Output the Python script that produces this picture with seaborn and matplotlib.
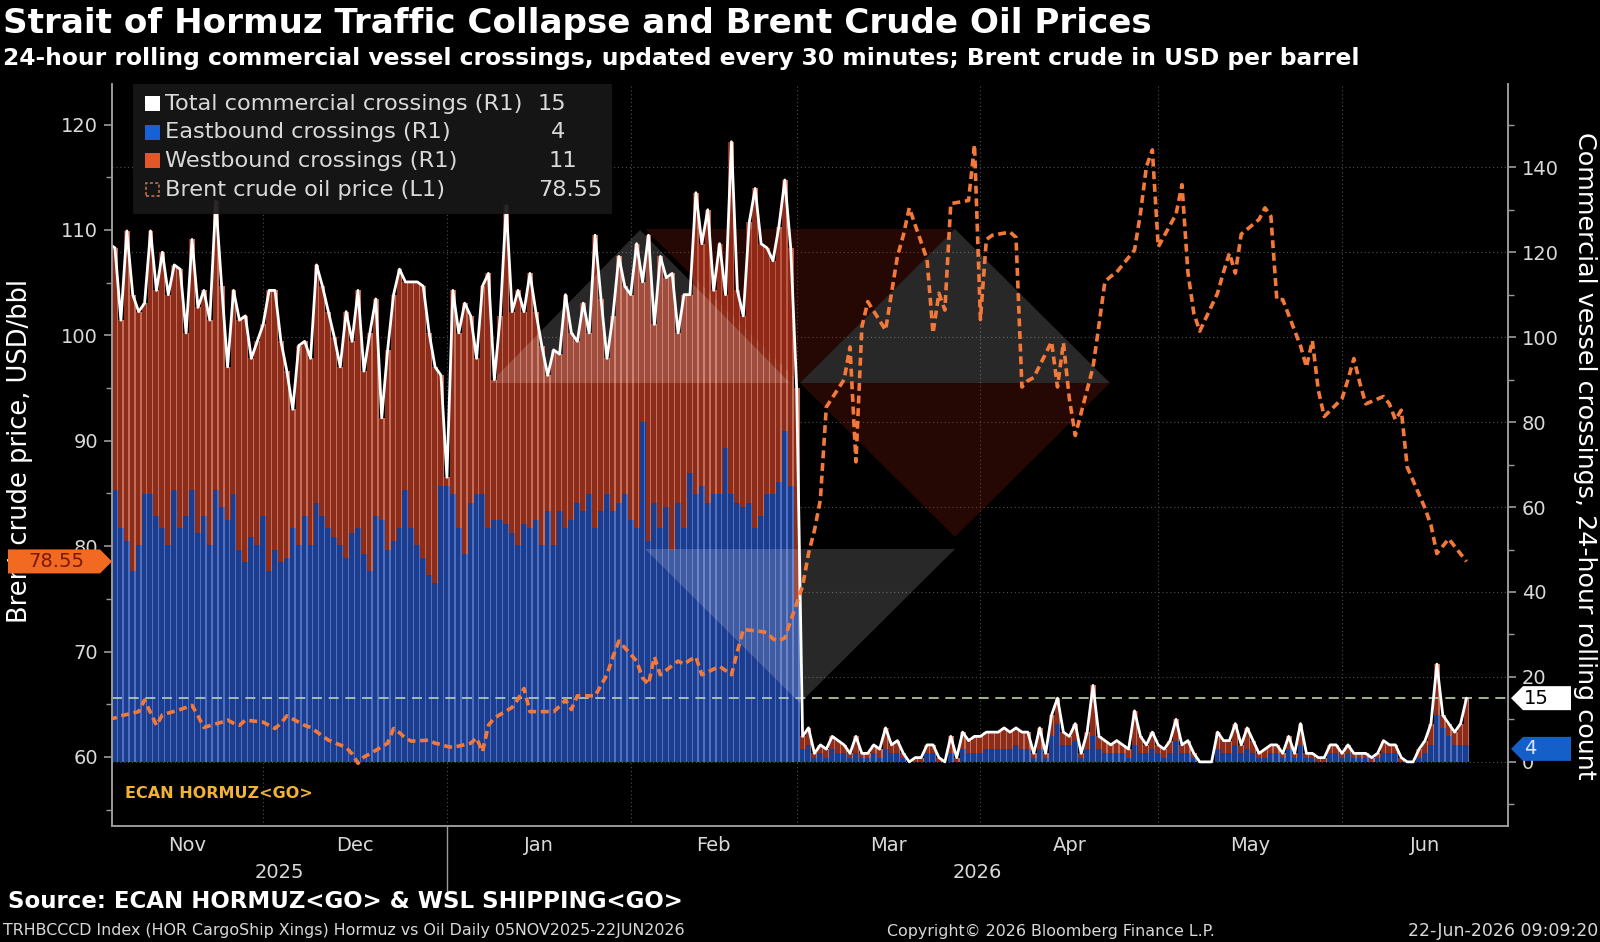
import numpy as np
import pandas as pd
import matplotlib
import matplotlib.pyplot as plt
import matplotlib.transforms as mtransforms
from matplotlib.patches import Polygon, Rectangle
import seaborn as sns

# ---- data: 24h rolling commercial crossings, daily 05-Nov-2025 .. 22-Jun-2026
total = [
    122, 121, 104, 125, 110, 106, 108, 125, 111, 120,
    110, 117, 116, 101, 123, 107, 111, 104, 132, 112,
    93, 111, 104, 105, 95, 99, 103, 111, 111, 99,
    92, 83, 98, 99, 95, 117, 112, 106, 100, 93,
    106, 99, 111, 92, 101, 109, 81, 97, 110, 116,
    113, 113, 113, 112, 101, 93, 91, 67, 111, 101,
    108, 105, 95, 112, 115, 90, 105, 131, 106, 111,
    106, 115, 106, 98, 91, 97, 96, 110, 101, 99,
    108, 101, 124, 109, 95, 105, 119, 112, 110, 122,
    113, 124, 103, 119, 114, 115, 101, 110, 110, 134,
    122, 130, 111, 122, 110, 146, 111, 105, 127, 135,
    122, 121, 118, 126, 137, 121, 88,
    # collapse
    6, 8, 2, 4, 3, 6, 5, 4, 2, 6,
    2, 2, 4, 3, 8, 4, 5, 2, 0, 1,
    1, 4, 4, 1, 0, 6, 1, 7, 5, 6,
    6, 7, 7, 7, 8, 7, 8, 7, 7, 2,
    8, 2, 11, 15, 7, 6, 9, 2, 7, 18,
    6, 5, 4, 5, 4, 3, 12, 6, 4, 7,
    4, 3, 5, 10, 4, 5, 2, 0, 0, 0,
    7, 5, 5, 9, 4, 8, 5, 2, 3, 4, 4, 2, 6, 2,
    9, 2, 2, 1, 1,
    4, 4, 2, 4, 2, 2, 2, 1, 2, 5, 4, 4, 1, 0, 0, 3, 5, 9, 23, 11, 9, 7, 9, 15,
]
eastbound = [
    61, 64, 55, 52, 45, 51, 63, 63, 58, 55,
    51, 64, 55, 58, 64, 54, 58, 51, 64, 60,
    57, 63, 50, 47, 53, 51, 58, 45, 50, 47,
    48, 55, 51, 58, 51, 61, 58, 55, 53, 51,
    48, 54, 55, 49, 45, 58, 57, 50, 52, 55,
    64, 55, 51, 48, 44, 42, 65, 65, 63, 55,
    49, 61, 63, 63, 55, 57, 57, 56, 54, 51,
    56, 55, 57, 51, 59, 51, 59, 55, 57, 61,
    59, 63, 55, 59, 63, 59, 61, 63, 57, 55,
    80, 52, 61, 55, 60, 50, 61, 55, 68, 63,
    65, 61, 63, 63, 74, 63, 61, 60, 61, 55,
    58, 63, 63, 66, 78, 65, 38,
    3, 4, 1, 2, 1, 3, 2, 2, 1, 2,
    1, 1, 2, 1, 3, 2, 2, 1, 0, 0,
    0, 2, 2, 0, 0, 2, 0, 3, 2, 2,
    2, 3, 3, 3, 3, 3, 4, 3, 3, 1,
    3, 1, 6, 9, 4, 4, 5, 1, 3, 6,
    3, 2, 2, 2, 2, 1, 4, 2, 2, 3,
    2, 1, 2, 5, 2, 2, 1, 0, 0, 0,
    3, 2, 2, 4, 2, 3, 2, 1, 1, 2, 2, 1, 3, 1,
    4, 1, 1, 0, 0,
    2, 2, 1, 2, 1, 1, 1, 0, 1, 2, 2, 2, 0, 0, 0, 1, 2, 4, 11, 8, 6, 4, 4, 4,
]
# Brent crude, business days 05-Nov-2025 .. 22-Jun-2026
brent = [
    63.6, 63.7, 63.9, 64.3, 65.4, 64.2, 63.0, 64.0, 64.5, 64.7, 64.9, 63.9, 62.8, 63.3, 63.5, 63.2, 63.0, 63.5,
    63.3, 63.0, 62.7, 63.2, 63.9, 63.0, 62.8, 62.4, 62.0, 61.6, 60.9, 60.3, 59.4, 60.0, 60.3, 61.3, 62.7, 62.3,
    61.8, 61.5, 61.6, 61.3, 61.2,
    61.0, 60.9, 61.3, 61.8, 60.5, 63.0, 63.7, 64.7, 65.5, 66.5, 64.3, 64.3, 64.3, 64.8, 65.4, 64.5, 65.8, 65.8,
    66.8, 67.8, 69.5, 71.0,
    69.1, 67.5, 66.9, 69.5, 67.8, 69.1, 68.8, 69.2, 69.5, 67.8, 68.6, 68.2, 67.8, 70.0, 72.1, 71.9, 71.8, 71.2,
    71.0, 71.3,
    76.2, 79.3, 81.5, 84.4, 93.2, 95.8, 98.9, 88.0, 100.8, 103.2, 100.5, 104.0, 107.5, 109.5, 112.1, 107.2,
    100.2, 104.0, 102.4, 112.5, 112.8, 118.1,
    101.5, 109.1, 109.5, 109.8, 109.3, 95.1, 95.7, 96.0, 99.4, 95.1, 99.3, 94.0, 90.5, 97.0, 101.0, 105.1,
    105.6, 106.0, 108.1, 111.6, 116.0, 117.6,
    108.4, 111.5, 114.3, 106.0, 102.1, 100.4, 104.0, 106.0, 107.8, 105.9, 109.6, 111.0, 112.1, 111.3, 103.4,
    103.4, 99.0, 97.0, 99.5, 94.8, 92.3,
    94.0, 95.8, 97.8, 95.5, 93.5, 94.2, 93.5, 92.0, 92.9, 87.5, 83.6, 82.0, 79.3, 80.0, 80.7, 78.55,
]
month_names = ['Nov', 'Dec', 'Jan', 'Feb', 'Mar', 'Apr', 'May', 'Jun']
year_names = ['2025', '2026']

dates = pd.date_range('2025-11-05', periods=len(total), freq='D')
brent_dates = pd.bdate_range('2025-11-05', periods=len(brent))
df = pd.DataFrame({'date': dates, 'total': total, 'east': eastbound})
df['west'] = df['total'] - df['east']
oil = pd.DataFrame({'date': brent_dates, 'brent': brent})

# colours
BG = 'black'
TXT = '#d9d9d9'
EAST_C, EAST_HI = '#1c3c8e', '#5f82d6'
WEST_C, WEST_HI = '#8c2c1a', '#d8846c'
OIL_C = '#f2793a'
W, H = 1600, 942

sns.set_theme(style='dark')
plt.rcParams['font.family'] = ['DejaVu Sans']
plt.rcParams['axes.facecolor'] = BG
plt.rcParams['figure.facecolor'] = BG


def fx(x):
    return x / W


def fy(y):
    return 1 - y / H


fig = plt.figure(figsize=(16, 9.42), dpi=100)
ax = fig.add_axes([fx(112), fy(826), fx(1508 - 112), (826 - 84) / H])
axr = ax.twinx()
ax.set_zorder(axr.get_zorder() + 1)
ax.patch.set_visible(False)
axr.patch.set_visible(False)

x0 = pd.Timestamp('2025-11-05 12:00')
x1 = pd.Timestamp('2026-06-29')
month_starts = pd.date_range('2025-12-01', '2026-06-01', freq='MS')

# grid
for v in range(0, 141, 20):
    axr.axhline(v, color='#4d4d4d', lw=0.8, ls=(0, (1, 2.5)), zorder=0.2)
for m in month_starts:
    axr.axvline(m, color='#4d4d4d', lw=0.8, ls=(0, (1, 2.5)), zorder=0.2)

# stacked bars + thin highlight stripes
axr.bar(df['date'], df['east'], width=1.0, color=EAST_C, lw=0, zorder=1)
axr.bar(df['date'], df['west'], bottom=df['east'], width=1.0, color=WEST_C, lw=0, zorder=1)
hi = df['date'] + pd.Timedelta(hours=9)
axr.bar(hi, df['east'], width=0.22, color=EAST_HI, lw=0, alpha=0.75, zorder=1.1)
axr.bar(hi, df['west'], bottom=df['east'], width=0.22, color=WEST_HI, lw=0, alpha=0.75, zorder=1.1)

# Bloomberg style watermark
grey_wm = (1, 1, 1, 0.16)
red_wm = (0.62, 0.12, 0.06, 0.24)
shapes = [
    ([(645, 229), (955, 229), (800, 383)], red_wm),
    ([(490, 383), (790, 383), (640, 230)], grey_wm),
    ([(800, 383), (1110, 383), (955, 229)], grey_wm),
    ([(800, 383), (1110, 383), (955, 537)], red_wm),
    ([(645, 549), (955, 549), (800, 703)], grey_wm),
]
for pts, col in shapes:
    axr.add_patch(Polygon([(fx(a), fy(b)) for a, b in pts], closed=True, facecolor=col,
                          edgecolor='none', transform=fig.transFigure, zorder=1.5))

axr.axhline(total[-1], color='#b8d4ae', lw=1.2, dashes=(6, 4), zorder=2.5)

sns.lineplot(data=df, x='date', y='total', ax=axr, color='white', linewidth=2.0, zorder=3)
sns.lineplot(data=oil, x='date', y='brent', ax=ax, color=OIL_C, linewidth=2.6, zorder=4)
ax.lines[-1].set_dashes([2.2, 1.3])

# axes limits / ticks
ax.set_xlim(x0, x1)
ax.set_ylim(53.45, 123.85)
axr.set_ylim(-15.1, 159.6)
ax.set_yticks(range(60, 121, 10))
ax.set_yticks(range(55, 121, 5), minor=True)
axr.set_yticks(range(0, 141, 20))
axr.set_yticks(range(-10, 151, 10), minor=True)
ax.set_xticks(month_starts)
ax.set_xticklabels([])
ax.set_xlabel('')
ax.set_ylabel('')
axr.set_ylabel('')
axr.set_xlabel('')
ax.tick_params(axis='y', which='major', colors='#9a9a9a', labelcolor=TXT, labelsize=14,
               length=6, width=1.2, direction='out', pad=4)
ax.tick_params(axis='y', which='minor', colors='#9a9a9a', length=4, width=1)
axr.tick_params(axis='y', which='major', colors='#9a9a9a', labelcolor=TXT, labelsize=14,
                length=6, width=1.2, direction='out', pad=4)
axr.tick_params(axis='y', which='minor', colors='#9a9a9a', length=4, width=1)
ax.tick_params(axis='x', which='major', colors='#9a9a9a', length=6, width=1)
ax.grid(False)
axr.grid(False)
for a in (ax, axr):
    for s in a.spines.values():
        s.set_color('#9a9a9a')
        s.set_linewidth(1.2)
    a.spines['top'].set_visible(False)

# month and year labels
bt = mtransforms.blended_transform_factory(ax.transData, ax.transAxes)
edges = [x0] + list(month_starts) + [x1]
for name, a, b in zip(month_names, edges[:-1], edges[1:]):
    ax.text(a + (b - a) / 2, -0.026, name, transform=bt, ha='center', va='center',
            color=TXT, fontsize=14)
jan1 = pd.Timestamp('2026-01-01')
ax.plot([jan1, jan1], [0, -0.087], transform=bt, clip_on=False, color='#9a9a9a', lw=1)
ax.text(x0 + (jan1 - x0) / 2, -0.063, year_names[0], transform=bt, ha='center', va='center',
        color=TXT, fontsize=14)
ax.text(jan1 + (x1 - jan1) / 2, -0.063, year_names[1], transform=bt, ha='center', va='center',
        color=TXT, fontsize=14)

ax.text(fx(125), fy(794), 'ECAN HORMUZ<GO>', transform=fig.transFigure, color='#f2b232',
        fontsize=11.5, fontweight='bold', va='center', ha='left')

# axis titles
fig.text(fx(20), fy(451), 'Brent crude price, USD/bbl', rotation=90, color='white',
         fontsize=18.5, ha='center', va='center')
fig.text(fx(1585), fy(456), 'Commercial vessel crossings, 24-hour rolling count', rotation=270,
         color='white', fontsize=18.3, ha='center', va='center')

# title / subtitle / footer
fig.text(fx(3), fy(23), 'Strait of Hormuz Traffic Collapse and Brent Crude Oil Prices',
         color='white', fontsize=24.6, fontweight='bold', va='center', ha='left')
fig.text(fx(3), fy(58), '24-hour rolling commercial vessel crossings, updated every 30 minutes; '
         'Brent crude in USD per barrel', color='white', fontsize=16.8, fontweight='bold',
         va='center', ha='left')
fig.text(fx(8), fy(902), 'Source: ECAN HORMUZ<GO> & WSL SHIPPING<GO>', color='white',
         fontsize=16.5, fontweight='bold', va='center', ha='left')
fig.text(fx(3), fy(931), 'TRHBCCCD Index (HOR CargoShip Xings) Hormuz vs Oil Daily 05NOV2025-22JUN2026',
         color=TXT, fontsize=11.4, va='center', ha='left')
fig.text(fx(1051), fy(931), 'Copyright\u00a9 2026 Bloomberg Finance L.P.', color=TXT, fontsize=11.4,
         va='center', ha='center')
fig.text(fx(1598), fy(931), '22-Jun-2026 09:09:20', color=TXT, fontsize=12.5, va='center', ha='right')

# legend box
fig.add_artist(Rectangle((fx(133), fy(214)), fx(612 - 133), (214 - 84) / H, transform=fig.transFigure,
                         facecolor='#171717', edgecolor='none', alpha=0.92, zorder=5))
rows = [
    ('Total commercial crossings (R1)', 'white', f'{total[-1]}', 538),
    ('Eastbound crossings (R1)', '#1761d6', f'{eastbound[-1]}', 551),
    ('Westbound crossings (R1)', '#e0582a', f'{total[-1] - eastbound[-1]}', 549),
    ('Brent crude oil price (L1)', None, f'{brent[-1]:.2f}', 538),
]
for i, (lab, col, val, vx) in enumerate(rows):
    yc = 104 + i * 28.5
    if col is not None:
        fig.add_artist(Rectangle((fx(145), fy(yc + 7)), fx(15), 15 / H, transform=fig.transFigure,
                                 facecolor=col, edgecolor='none', zorder=6))
    else:
        fig.add_artist(Rectangle((fx(146), fy(yc + 6)), fx(13), 13 / H, transform=fig.transFigure,
                                 facecolor='none', edgecolor='#c8765a', lw=1.1, ls=(0, (2, 1.5)),
                                 zorder=6))
    fig.text(fx(165), fy(yc), lab, color=TXT, fontsize=16.2, va='center', ha='left', zorder=6)
    fig.text(fx(vx), fy(yc), val, color=TXT, fontsize=16.2, va='center', ha='left', zorder=6)


# value tags on the axes
def to_px_y(axis, v):
    return H - axis.transData.transform((0, v))[1]


def tag(pts, face, text, tcol, tx, ty, ha='left'):
    fig.add_artist(Polygon([(fx(a), fy(b)) for a, b in pts], closed=True, facecolor=face,
                           edgecolor='none', transform=fig.transFigure, zorder=7))
    fig.text(fx(tx), fy(ty), text, color=tcol, fontsize=14, va='center', ha=ha, zorder=8)


yb = to_px_y(ax, brent[-1])
tag([(8, yb - 12), (100, yb - 12), (112, yb), (100, yb + 12), (8, yb + 12)],
    '#f26a21', f'{brent[-1]:.2f}', '#7a1800', 56, yb, ha='center')
yt = to_px_y(axr, total[-1])
tag([(1511, yt), (1523, yt - 12), (1571, yt - 12), (1571, yt + 12), (1523, yt + 12)],
    'white', f'{total[-1]}', 'black', 1524, yt)
ye = to_px_y(axr, eastbound[-1]) + 4
tag([(1511, ye), (1523, ye - 12), (1571, ye - 12), (1571, ye + 12), (1523, ye + 12)],
    '#1560c8', f'{eastbound[-1]}', '#dce6ff', 1524, ye)

fig.savefig('out.png', dpi=100, facecolor=BG)
